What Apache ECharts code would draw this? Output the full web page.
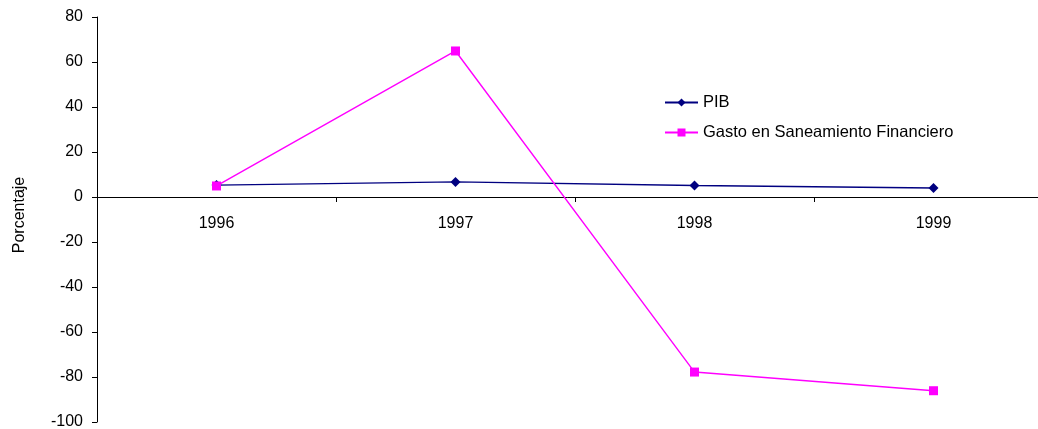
<!DOCTYPE html>
<html><head><meta charset="utf-8">
<script src="https://cdn.jsdelivr.net/npm/echarts@6/dist/echarts.min.js"></script>
<style>html,body{margin:0;padding:0;background:#fff}#c{width:1038px;height:429px}</style>
</head><body><div id="c"></div>
<script>
const categories = ['1996', '1997', '1998', '1999'];
const pib = [5.3, 6.7, 5.1, 4.0];
const gasto = [4.9, 64.9, -77.8, -86.1];
const seriesNames = ['PIB', 'Gasto en Saneamiento Financiero'];
const yAxisName = 'Porcentaje';

const font = 'Liberation Sans, Arial, sans-serif';
const fs = 16;
const chart = echarts.init(document.getElementById('c'), null, {renderer: 'canvas'});
chart.setOption({
  animation: false,
  backgroundColor: '#fff',
  grid: {left: 97, right: -15, top: 17, bottom: 7, containLabel: false, outerBoundsMode: 'none'},
  legend: {
    orient: 'vertical', left: 659, top: 89, itemGap: 13, itemWidth: 33, itemHeight: 10,
    textStyle: {fontFamily: font, fontSize: 16.5, color: '#000'},
    data: seriesNames
  },
  xAxis: {
    type: 'category', data: categories, boundaryGap: true,
    axisLine: {onZero: true, lineStyle: {color: '#000', width: 1}},
    axisTick: {show: true, length: 5, inside: false, lineStyle: {color: '#000'}},
    axisLabel: {fontFamily: font, fontSize: fs, color: '#000', margin: -206}
  },
  yAxis: {
    type: 'value', min: -100, max: 80, interval: 20,
    name: yAxisName, nameLocation: 'middle', nameGap: 69, nameRotate: 90,
    nameTextStyle: {fontFamily: font, fontSize: fs, color: '#000', padding: [0, 0, 0, 9]},
    axisLine: {show: true, lineStyle: {color: '#000'}},
    axisTick: {show: true, length: 5, lineStyle: {color: '#000'}},
    axisLabel: {fontFamily: font, fontSize: fs, color: '#000', margin: 14},
    splitLine: {show: false}
  },
  series: [
    {name: seriesNames[0], type: 'line', data: pib, symbol: 'diamond', symbolSize: 10,
     lineStyle: {color: '#000080', width: 1.4}, itemStyle: {color: '#000080'}},
    {name: seriesNames[1], type: 'line', data: gasto, symbol: 'rect', symbolSize: 9,
     lineStyle: {color: '#FF00FF', width: 1.4}, itemStyle: {color: '#FF00FF'}}
  ]
});
</script></body></html>
